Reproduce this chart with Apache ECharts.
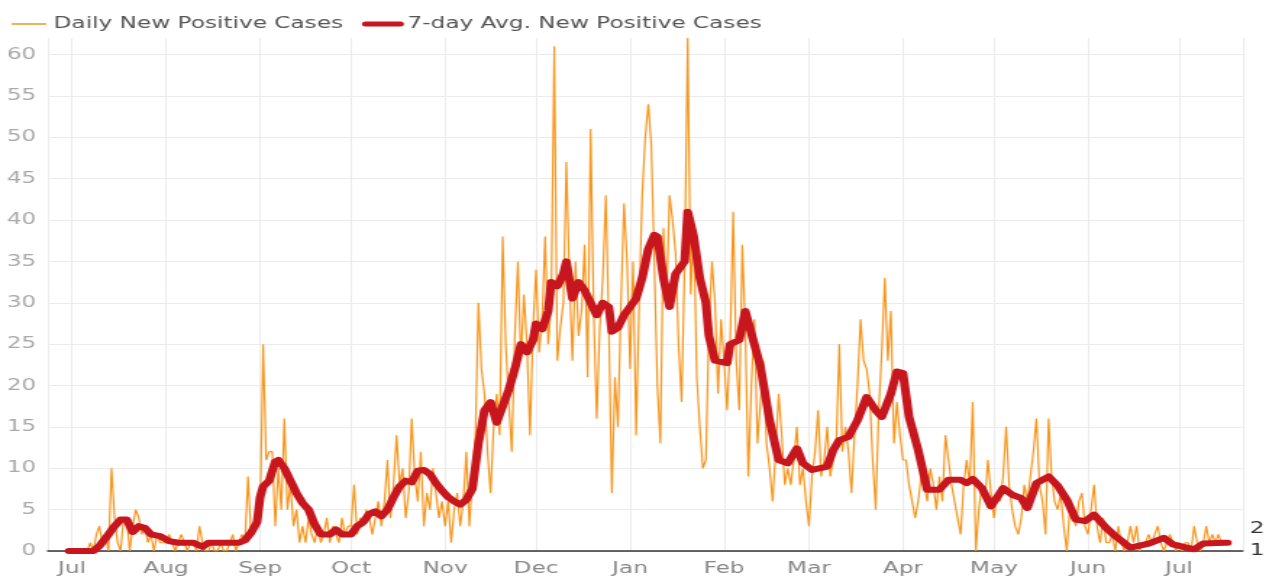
<!DOCTYPE html>
<html>
<head>
<meta charset="utf-8">
<title>Daily New Positive Cases</title>
<script src="https://cdn.jsdelivr.net/npm/echarts@6/dist/echarts.min.js"></script>
<style>
  html, body { margin: 0; padding: 0; background: #fff; overflow: hidden; }
  /* the source chart is stretched sideways, so draw narrow and widen it */
  #chart { width: 876px; height: 579px; transform: scaleX(1.4486); transform-origin: 0 0; }
</style>
</head>
<body>
<div id="chart"></div>
<script>
// month names for the x axis labels
const monthNames = ['Jan', 'Feb', 'Mar', 'Apr', 'May', 'Jun', 'Jul', 'Aug', 'Sep', 'Oct', 'Nov', 'Dec'];

// daily new positive cases, one value per day starting 2020-06-30
const dailyStart = [2020, 5, 30];
const dailyCases = [
  0,
  // Jul 2020
  0, 0, 0, 0, 0, 0, 1, 0, 2, 3, 1, 2, 0, 10, 4, 1, 0, 4, 4, 0, 3, 5, 4, 2, 3, 1, 2, 0, 2, 1, 1,
  // Aug
  1, 2, 1, 0, 1, 2, 1, 0, 1, 1, 0, 3, 1, 0, 0, 1, 0, 0, 1, 0, 0, 1, 2, 0, 1, 2, 1, 9, 2, 3, 5,
  // Sep
  4, 25, 11, 12, 12, 3, 10, 5, 16, 5, 8, 3, 5, 1, 3, 1, 4, 2, 1, 3, 1, 2, 4, 1, 3, 2, 1, 4, 2, 3,
  // Oct
  3, 8, 2, 4, 3, 5, 4, 2, 4, 6, 3, 6, 11, 4, 8, 14, 8, 10, 4, 7, 16, 9, 6, 12, 3, 7, 5, 10, 7, 4, 6,
  // Nov
  3, 6, 1, 5, 7, 3, 6, 12, 3, 9, 14, 30, 22, 19, 12, 7, 15, 19, 14, 38, 25, 18, 12, 26, 35, 23, 31, 25, 14, 27,
  // Dec
  34, 24, 28, 38, 25, 30, 61, 23, 27, 30, 47, 33, 23, 35, 26, 29, 37, 21, 51, 29, 16, 27, 33, 43, 27, 7, 21, 15, 30, 42, 35,
  // Jan 2021
  22, 35, 14, 30, 43, 50, 54, 49, 35, 20, 13, 39, 30, 43, 40, 36, 25, 18, 35, 62, 31, 39, 21, 15, 10, 11, 27, 35, 30, 19, 28,
  // Feb
  23, 17, 25, 41, 23, 17, 37, 27, 9, 20, 28, 13, 18, 23, 13, 10, 6, 12, 19, 14, 8, 10, 8, 11, 15, 8, 10, 6,
  // Mar
  3, 9, 12, 17, 9, 11, 15, 9, 11, 13, 25, 12, 15, 12, 7, 14, 20, 28, 23, 22, 19, 11, 5, 17, 24, 33, 23, 29, 13, 18, 14,
  // Apr
  11, 11, 8, 6, 4, 6, 9, 8, 6, 10, 8, 5, 9, 6, 14, 11, 8, 6, 4, 2, 8, 11, 8, 18, 0, 5, 8, 6, 11, 7,
  // May
  4, 7, 6, 9, 15, 8, 5, 3, 2, 4, 8, 6, 9, 12, 16, 8, 6, 2, 16, 9, 6, 5, 7, 3, 0, 5, 4, 3, 6, 7, 3,
  // Jun
  2, 5, 8, 3, 1, 4, 1, 1, 2, 0, 3, 1, 0, 1, 3, 1, 3, 0, 1, 1, 2, 1, 2, 3, 1, 0, 1, 2, 1, 0,
  // Jul 2021
  1, 0, 1, 1, 0, 3, 1, 0, 1, 3, 1, 2, 1, 2, 1, 1, 1
];

// 7-day average
const avgDates = [
  '2020-06-30', '2020-07-08', '2020-07-10', '2020-07-13', '2020-07-15', '2020-07-17', '2020-07-19', '2020-07-21',
  '2020-07-23', '2020-07-25', '2020-07-27', '2020-07-30', '2020-08-02', '2020-08-05', '2020-08-10', '2020-08-13',
  '2020-08-15', '2020-08-20', '2020-08-25', '2020-08-27', '2020-08-29', '2020-08-31', '2020-09-01', '2020-09-02',
  '2020-09-04', '2020-09-06', '2020-09-07', '2020-09-09', '2020-09-11', '2020-09-13', '2020-09-15', '2020-09-17',
  '2020-09-19', '2020-09-21', '2020-09-24', '2020-09-26', '2020-09-28', '2020-10-01', '2020-10-03', '2020-10-05',
  '2020-10-07', '2020-10-09', '2020-10-11', '2020-10-13', '2020-10-15', '2020-10-17', '2020-10-19', '2020-10-21',
  '2020-10-23', '2020-10-25', '2020-10-27', '2020-10-29', '2020-10-31', '2020-11-02', '2020-11-04', '2020-11-06',
  '2020-11-08', '2020-11-10', '2020-11-12', '2020-11-14', '2020-11-16', '2020-11-18', '2020-11-20', '2020-11-22',
  '2020-11-24', '2020-11-26', '2020-11-28', '2020-11-30', '2020-12-01', '2020-12-03', '2020-12-05', '2020-12-06',
  '2020-12-08', '2020-12-10', '2020-12-11', '2020-12-13', '2020-12-15', '2020-12-17', '2020-12-19', '2020-12-21',
  '2020-12-23', '2020-12-25', '2020-12-26', '2020-12-28', '2020-12-30', '2021-01-01', '2021-01-03', '2021-01-05',
  '2021-01-07', '2021-01-09', '2021-01-10', '2021-01-12', '2021-01-14', '2021-01-16', '2021-01-19', '2021-01-20',
  '2021-01-22', '2021-01-24', '2021-01-26', '2021-01-27', '2021-01-29', '2021-02-02', '2021-02-03', '2021-02-06',
  '2021-02-08', '2021-02-10', '2021-02-13', '2021-02-16', '2021-02-17', '2021-02-19', '2021-02-22', '2021-02-25',
  '2021-02-27', '2021-03-02', '2021-03-07', '2021-03-09', '2021-03-11', '2021-03-14', '2021-03-17', '2021-03-20',
  '2021-03-23', '2021-03-25', '2021-03-28', '2021-03-30', '2021-04-01', '2021-04-03', '2021-04-06', '2021-04-09',
  '2021-04-13', '2021-04-16', '2021-04-20', '2021-04-22', '2021-04-24', '2021-04-27', '2021-04-30', '2021-05-03',
  '2021-05-04', '2021-05-07', '2021-05-10', '2021-05-12', '2021-05-15', '2021-05-19', '2021-05-22', '2021-05-25',
  '2021-05-28', '2021-05-31', '2021-06-03', '2021-06-07', '2021-06-10', '2021-06-15', '2021-06-21', '2021-06-26',
  '2021-06-29', '2021-07-06', '2021-07-09', '2021-07-16', '2021-07-17'
];
const avgCases = [
  0, 0, 0.6, 2, 3, 3.8, 3.8, 2.3,
  3, 2.8, 2, 1.8, 1.2, 1, 1, 0.5,
  1, 1, 1, 1.3, 2.2, 3.5, 6.5, 7.8,
  8.5, 10.8, 11, 10, 8.5, 7, 5.8, 5,
  3.2, 2, 2, 2.6, 2, 2, 3, 3.5,
  4.5, 4.8, 4.2, 5, 6.5, 7.8, 8.5, 8.3,
  9.7, 9.8, 9.3, 8.2, 7.3, 6.5, 6, 5.6,
  6.2, 7.5, 13, 17, 18, 15.5, 17.5, 19.5,
  22, 25, 24, 25.5, 27.5, 26.8, 29, 32.5,
  32, 33.5, 35, 30.5, 32.5, 31.5, 30, 28.5,
  30, 29.5, 26.5, 27, 28.5, 29.5, 30.5, 33,
  36.5, 38.2, 38, 33, 29.5, 33.5, 35, 41,
  38, 33, 30, 26, 23, 22.7, 25, 25.5,
  29, 26.3, 22.3, 15.8, 14.2, 11, 10.6, 12.4,
  10.6, 9.8, 10.2, 12.2, 13.4, 13.8, 15.8, 18.6,
  17, 16.2, 19, 21.7, 21.5, 16.2, 12.2, 7.4,
  7.4, 8.6, 8.6, 8.2, 8.7, 7.6, 5.4, 7,
  7.6, 6.8, 6.4, 5.2, 8.2, 9, 7.9, 6.2,
  3.8, 3.6, 4.4, 2.8, 1.8, 0.4, 0.9, 1.6,
  0.8, 0.2, 0.9, 1, 1
];

const chart = echarts.init(document.getElementById('chart'));

const dailyData = dailyCases.map((v, i) => {
  const d = new Date(dailyStart[0], dailyStart[1], dailyStart[2] + i);
  return [d.getTime(), v];
});
const avgData = avgDates.map((d, i) => [d, avgCases[i]]);

const fontFamily = 'DejaVu Sans';

chart.setOption({
  animation: false,
  backgroundColor: '#fff',
  textStyle: { fontFamily: fontFamily },
  legend: {
    left: 2,
    top: 11,
    itemWidth: 24,
    itemHeight: 14,
    itemGap: 13,
    itemStyle: { opacity: 0 }, // only the line in the legend icon, no dot
    textStyle: { color: '#555', fontSize: 16, fontFamily: fontFamily },
    data: [
      { name: 'Daily New Positive Cases', lineStyle: { color: '#ecb453', width: 2 } },
      { name: '7-day Avg. New Positive Cases', lineStyle: { width: 5 } }
    ]
  },
  grid: {
    left: 33,
    right: 12,
    top: 38,
    bottom: 28,
    containLabel: false
  },
  xAxis: {
    type: 'time',
    min: new Date(2020, 5, 23).getTime(),
    max: new Date(2021, 6, 22).getTime(),
    minInterval: 28 * 24 * 3600 * 1000,
    maxInterval: 31 * 24 * 3600 * 1000,
    axisLine: { lineStyle: { color: '#333', width: 1.5 } },
    axisTick: { show: false },
    axisLabel: {
      color: '#888',
      fontSize: 16,
      margin: 10,
      showMinLabel: false,
      showMaxLabel: false,
      formatter: value => monthNames[new Date(value).getMonth()]
    },
    splitLine: { show: true, lineStyle: { color: '#ececec', width: 1 } }
  },
  yAxis: [
    {
      type: 'value',
      min: 0,
      max: 62,
      interval: 5,
      axisLine: { show: false },
      axisTick: { show: false },
      axisLabel: { color: '#aaa', fontSize: 16, margin: 8, showMaxLabel: false },
      splitLine: { show: true, showMaxLine: false, lineStyle: { color: '#ececec', width: 1 } }
    },
    {
      type: 'value',
      position: 'right',
      min: 1,
      max: 24.3,
      interval: 1,
      axisLine: { show: false },
      axisTick: { show: false },
      splitLine: { show: false },
      axisLabel: {
        color: '#333',
        fontSize: 16,
        margin: 5,
        showMaxLabel: false,
        formatter: v => (v === 1 || v === 2 ? String(v) : '')
      }
    }
  ],
  series: [
    {
      name: 'Daily New Positive Cases',
      type: 'line',
      symbol: 'none',
      data: dailyData,
      itemStyle: { color: '#f7961c' },
      lineStyle: { color: '#f7961c', width: 1.2 },
      z: 2
    },
    {
      name: '7-day Avg. New Positive Cases',
      type: 'line',
      symbol: 'none',
      data: avgData,
      itemStyle: { color: '#c8161e' },
      lineStyle: { color: '#c8161e', width: 6, join: 'round', cap: 'round' },
      z: 3
    }
  ]
});
</script>
</body>
</html>
